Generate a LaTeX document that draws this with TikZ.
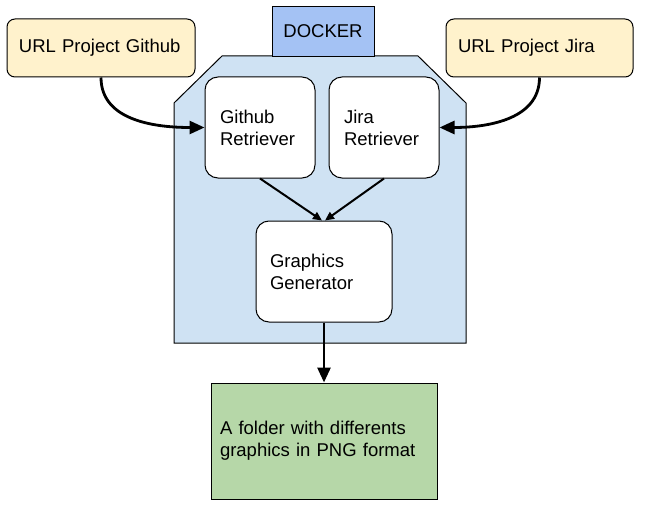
\documentclass[tikz,border=0pt]{standalone}
\usepackage{fontspec}
\setmainfont{Liberation Sans}
\usetikzlibrary{arrows.meta}
\definecolor{urlfill}{HTML}{FFF2CC}
\definecolor{dockfill}{HTML}{A4C2F4}
\definecolor{octfill}{HTML}{CFE2F3}
\definecolor{outfill}{HTML}{B6D7A8}
\tikzset{
  txt/.style={font=\fontsize{18.5pt}{22pt}\selectfont, align=left},
  urlbox/.style={txt, draw=black, line width=1pt, fill=urlfill, rounded corners=8pt,
    minimum height=58pt, inner xsep=12pt, inner ysep=0pt},
  procbox/.style={txt, draw=black, line width=1pt, fill=white, rounded corners=13pt,
    minimum height=101pt, inner ysep=0pt},
  bigarrow/.style={line width=2.8pt, -{Triangle[length=15pt,width=13pt]}},
  smallarrow/.style={line width=2pt, -{Triangle[length=9pt,width=8pt]}},
}
\begin{document}
\begin{tikzpicture}[x=1pt,y=-1pt]
\useasboundingbox (0,0) rectangle (648,524);
% docker container (octagon)
\draw[line width=1pt, fill=octfill] (222,56) -- (418,56) -- (466,103) -- (466,343)
  -- (174,343) -- (174,103) -- cycle;
\node[txt, draw=black, line width=1pt, fill=dockfill, minimum width=102pt, minimum height=50pt,
  inner sep=0pt, align=center] (docker) at (323,31.5) {DOCKER};
% URL boxes
\node[urlbox, text width=164pt] (ghurl) at (101,48) {URL Project Github};
\node[urlbox, text width=163pt] (jiraurl) at (539.5,48) {URL Project Jira};
% processing boxes
\node[procbox, text width=80pt, inner xsep=15pt] (ghret) at (260,127.5) {Github\\Retriever};
\node[procbox, text width=80pt, inner xsep=15pt] (jret) at (384,127.5) {Jira\\Retriever};
\node[procbox, text width=108pt, inner xsep=14pt] (gen) at (324,271.5) {Graphics\\Generator};
% output
\node[txt, draw=black, line width=1pt, fill=outfill, text width=208pt, inner xsep=9pt,
  minimum height=116pt, inner ysep=0pt] (out) at (324,441) {A folder with differents\\graphics in PNG format};
% connectors
\draw[bigarrow] (ghurl.south) to[out=-90, in=180] (ghret.west);
\draw[bigarrow] (jiraurl.south) to[out=-90, in=0] (jret.east);
\draw[smallarrow] (ghret.south) -- ([xshift=-2pt]gen.north);
\draw[smallarrow] (jret.south) -- ([xshift=1pt]gen.north);
\draw[bigarrow] (gen.south) -- (out.north);
\end{tikzpicture}
\end{document}
